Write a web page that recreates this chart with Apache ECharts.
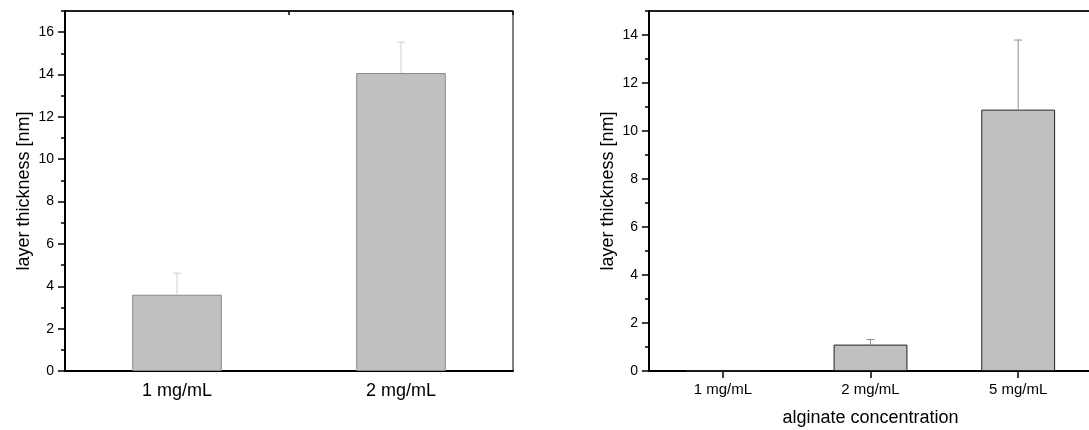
<!DOCTYPE html>
<html>
<head>
<meta charset="utf-8">
<script src="https://cdn.jsdelivr.net/npm/echarts@6/dist/echarts.min.js"></script>
<style>
  html, body { margin: 0; padding: 0; background: #fff; }
  #chart { width: 1089px; height: 430px; }
</style>
</head>
<body>
<div id="chart"></div>
<script>
// left panel
const leftCats = ['1 mg/mL', '2 mg/mL'];
const leftVals = [3.6, 14.07];
const leftErr = [1.02, 1.46];
// right panel
const rightCats = ['1 mg/mL', '2 mg/mL', '5 mg/mL'];
const rightVals = [0, 1.1, 10.89];
const rightErr = [0, 0.21, 2.9];

const font = 'Liberation Sans, Arial, sans-serif';

// error bar data: [category index, bar top, bar top + error]
function errData(vals, errs) {
    return vals.map((v, i) => [i, v, v + errs[i]]);
}

function errRender(color) {
    return function (params, api) {
        if (api.value(2) - api.value(1) <= 0) return;
        const lo = api.coord([api.value(0), api.value(1)]);
        const hi = api.coord([api.value(0), api.value(2)]);
        const style = { stroke: color, lineWidth: 1 };
        return {
            type: 'group',
            children: [
                { type: 'line', shape: { x1: lo[0], y1: lo[1], x2: hi[0], y2: hi[1] }, style: style },
                { type: 'line', shape: { x1: hi[0] - 4, y1: hi[1], x2: hi[0] + 4, y2: hi[1] }, style: style }
            ]
        };
    };
}

const myChart = echarts.init(document.getElementById('chart'));

const option = {
    animation: false,
    textStyle: { fontFamily: font },
    grid: [
        { left: 65, top: 11, width: 448, height: 360, show: true, borderColor: '#000', borderWidth: 1, outerBoundsMode: 'none' },
        { left: 649, top: 11, width: 443, height: 360, show: true, borderColor: '#000', borderWidth: 1, outerBoundsMode: 'none' }
    ],
    xAxis: [
        {
            type: 'category', gridIndex: 0, data: leftCats, position: 'bottom',
            axisLine: { lineStyle: { color: '#000', width: 2 } },
            axisTick: { show: false },
            axisLabel: { fontSize: 18, color: '#000', margin: 11, fontFamily: font }
        },
        {
            // top edge with the middle tick
            type: 'category', gridIndex: 0, data: leftCats, position: 'top',
            axisLine: { onZero: false, lineStyle: { color: '#000', width: 1.5 } },
            axisTick: { show: true, inside: true, length: 4, lineStyle: { color: '#000', width: 1.5 } },
            axisLabel: { show: false }
        },
        {
            type: 'category', gridIndex: 1, data: rightCats, position: 'bottom',
            name: 'alginate concentration', nameLocation: 'middle', nameGap: 38,
            nameTextStyle: { fontSize: 18, color: '#000', fontFamily: font },
            axisLine: { lineStyle: { color: '#000', width: 2 } },
            axisTick: { show: true, alignWithLabel: true, length: 7, lineStyle: { color: '#000', width: 1.5 } },
            axisLabel: { fontSize: 15, color: '#000', margin: 11, fontFamily: font }
        },
        {
            // plain top edge
            type: 'category', gridIndex: 1, data: rightCats, position: 'top',
            axisLine: { onZero: false, lineStyle: { color: '#000', width: 1.5 } },
            axisTick: { show: false },
            axisLabel: { show: false }
        }
    ],
    yAxis: [
        {
            type: 'value', gridIndex: 0, min: 0, max: 17, interval: 2, position: 'left',
            name: 'layer thickness [nm]', nameLocation: 'middle', nameGap: 32,
            nameTextStyle: { fontSize: 18, color: '#000', fontFamily: font },
            axisLine: { show: true, lineStyle: { color: '#000', width: 2 } },
            axisTick: { show: true, length: 7, lineStyle: { color: '#000', width: 1.5 } },
            axisLabel: { fontSize: 14, color: '#000', margin: 11, showMaxLabel: false, fontFamily: font },
            splitLine: { show: false }
        },
        {
            // minor ticks
            type: 'value', gridIndex: 0, min: 0, max: 17, interval: 1, position: 'left',
            axisLine: { show: false, onZero: false },
            axisTick: { show: true, length: 4, lineStyle: { color: '#000', width: 1.5 } },
            axisLabel: { show: false },
            splitLine: { show: false }
        },
        {
            type: 'value', gridIndex: 1, min: 0, max: 15, interval: 2, position: 'left',
            name: 'layer thickness [nm]', nameLocation: 'middle', nameGap: 32,
            nameTextStyle: { fontSize: 18, color: '#000', fontFamily: font },
            axisLine: { show: true, lineStyle: { color: '#000', width: 2 } },
            axisTick: { show: true, length: 7, lineStyle: { color: '#000', width: 1.5 } },
            axisLabel: { fontSize: 14, color: '#000', margin: 11, showMaxLabel: false, fontFamily: font },
            splitLine: { show: false }
        },
        {
            type: 'value', gridIndex: 1, min: 0, max: 15, interval: 1, position: 'left',
            axisLine: { show: false, onZero: false },
            axisTick: { show: true, length: 4, lineStyle: { color: '#000', width: 1.5 } },
            axisLabel: { show: false },
            splitLine: { show: false }
        }
    ],
    series: [
        {
            type: 'bar', xAxisIndex: 0, yAxisIndex: 0, data: leftVals, barWidth: '40%',
            itemStyle: { color: '#c0c0c0', borderColor: '#8a8a8a', borderWidth: 1 }
        },
        {
            type: 'custom', xAxisIndex: 0, yAxisIndex: 0, data: errData(leftVals, leftErr),
            renderItem: errRender('#cfcfcf'), z: 3
        },
        {
            type: 'bar', xAxisIndex: 2, yAxisIndex: 2, data: rightVals, barWidth: '50%',
            itemStyle: { color: '#c0c0c0', borderColor: '#222', borderWidth: 1 }
        },
        {
            type: 'custom', xAxisIndex: 2, yAxisIndex: 2, data: errData(rightVals, rightErr),
            renderItem: errRender('#8c8c8c'), z: 3
        }
    ]
};

myChart.setOption(option);
</script>
</body>
</html>
